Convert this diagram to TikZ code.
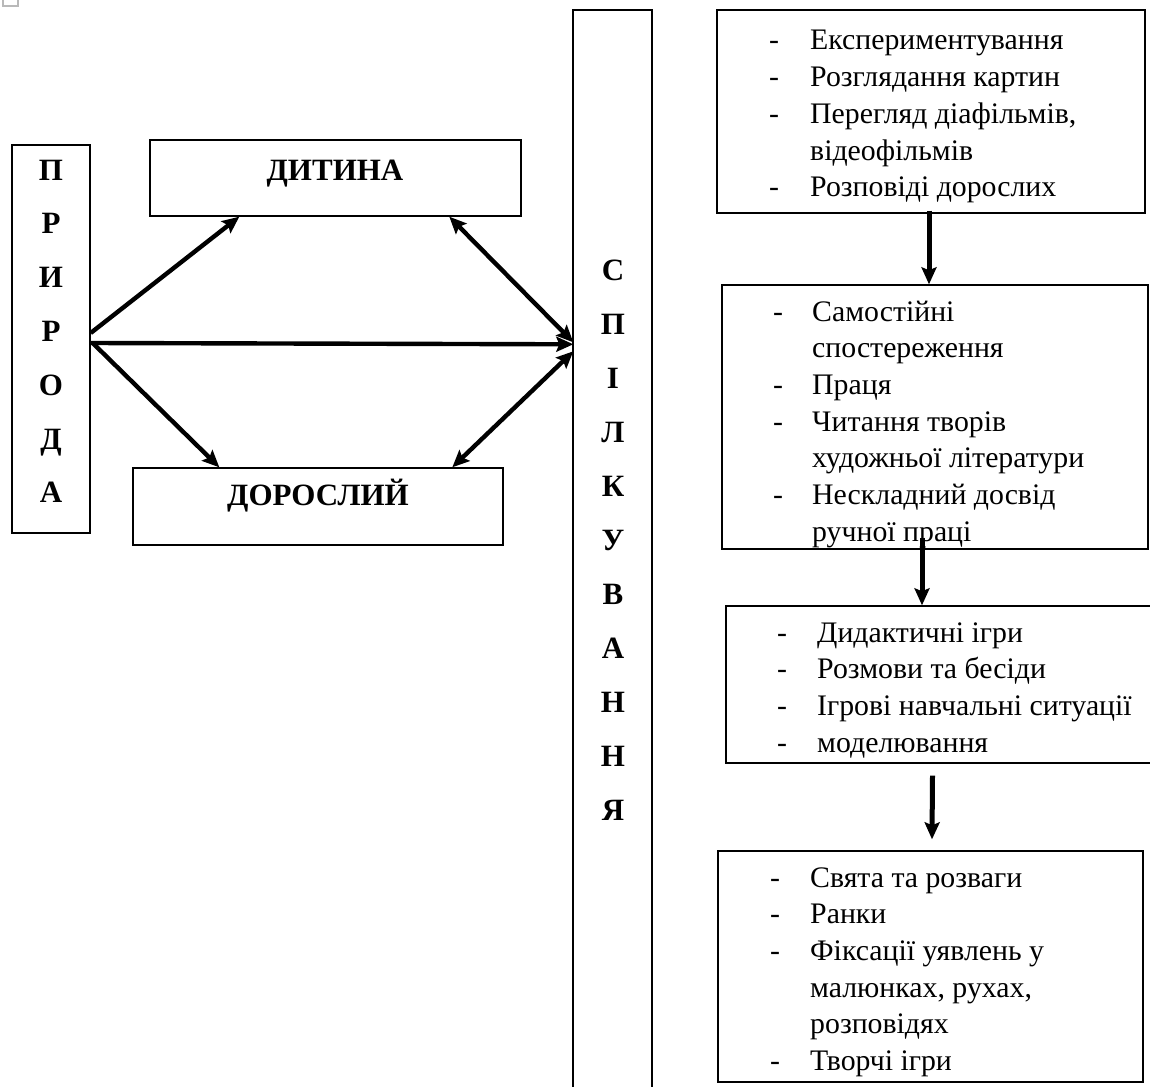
\documentclass[tikz,border=0pt]{standalone}
\usepackage{fontspec}
\setmainfont{Liberation Serif}
\usetikzlibrary{arrows.meta,calc}
\begin{document}
\begin{tikzpicture}[x=1pt,y=-1pt,
  box/.style={draw, line width=1.4pt, inner sep=0pt},
  tip/.tip={Stealth[length=17pt,width=15pt,inset=3pt]},
  arr/.style={line width=4.4pt, -tip},
  varr/.style={line width=5pt, -tip},
  darr/.style={line width=4.4pt, tip-tip},
  bigl/.style={font=\fontsize{31}{36.7}\selectfont\bfseries, inner sep=0pt, anchor=base},
  lst/.style={font=\fontsize{29.8}{36.7}\selectfont, inner sep=0pt, anchor=base west},
  every node/.style={text=black}]
\clip (0,0) rectangle (1150,1086);
\fill[white] (0,0) rectangle (1150,1086);
% broken image icon
\node[draw=gray!55, line width=1.2pt, inner sep=0pt, minimum width=15pt, minimum height=8pt] (icon) at (10.5,2) {};
% left part
\node[box, minimum width=78pt, minimum height=388pt] (pr) at (51,339) {};
\foreach \l [count=\i] in {П,Р,И,Р,О,Д,А}
  \node[bigl] (prl\i) at (51,{180+53.8*(\i-1)}) {\l};
\node[box, minimum width=371pt, minimum height=76pt] (dyt) at (335.5,178) {};
\node[bigl] (dytt) at (335,181) {ДИТИНА};
\node[box, minimum width=370pt, minimum height=77pt] (dor) at (318,506.5) {};
\node[bigl] (dort) at (318,505) {ДОРОСЛИЙ};
% communication column
\node[box, minimum width=79pt, minimum height=1100pt] (sp) at (612.5,560) {};
\foreach \l [count=\i] in {С,П,І,Л,К,У,В,А,Н,Н,Я}
  \node[bigl] (spl\i) at (613,{280+54*(\i-1)}) {\l};
% arrows
\draw[arr] ($(pr.east)+(0,-6)$) -- ($(dyt.south west)+(90,0)$);
\draw[arr] ($(pr.east)+(0,4)$) -- ($(sp.north west)+(1,335)$);
\draw[arr] ($(pr.east)+(2,4)$) -- ($(dor.north west)+(87,0)$);
\draw[darr] ($(dyt.south west)+(300,0)$) -- ($(sp.north west)+(1,333)$);
\draw[darr] ($(sp.north west)+(1,342)$) -- ($(dor.north west)+(320,0)$);
% right boxes
\node[box, minimum width=428pt, minimum height=203pt] (b1) at (931,111.5) {};
\node[lst] (t1) at (769,50) {\begin{tabular}[t]{@{}p{41pt}@{}l@{}}
-&Експериментування\\
-&Розглядання картин\\
-&Перегляд діафільмів,\\
&відеофільмів\\
-&Розповіді дорослих
\end{tabular}};
\node[box, minimum width=426pt, minimum height=264pt] (b2) at (935,417) {};
\node[lst] (t2) at (773,321) {\begin{tabular}[t]{@{}p{39pt}@{}l@{}}
-&Самостійні\\
&спостереження\\
-&Праця\\
-&Читання творів\\
&художньої літератури\\
-&Нескладний досвід\\
&ручної праці
\end{tabular}};
\node[box, minimum width=429pt, minimum height=157pt] (b3) at (940.5,684.5) {};
\node[lst] (t3) at (777,642) {\begin{tabular}[t]{@{}p{40pt}@{}l@{}}
-&Дидактичні ігри\\
-&Розмови та бесіди\\
-&Ігрові навчальні ситуації\\
-&моделювання
\end{tabular}};
\node[box, minimum width=425pt, minimum height=231pt] (b4) at (930.5,966.5) {};
\node[lst] (t4) at (770,887) {\begin{tabular}[t]{@{}p{40pt}@{}l@{}}
-&Свята та розваги\\
-&Ранки\\
-&Фіксації уявлень у\\
&малюнках, рухах,\\
&розповідях\\
-&Творчі ігри
\end{tabular}};
% vertical arrows
\draw[varr] ($(b1.south)+(-2,-3)$) -- ($(b2.north)+(-6,0)$);
\draw[varr] ($(b2.south)+(-13,-12)$) -- ($(b3.north)+(-18.5,0)$);
\draw[varr] ($(b3.south)+(-8,12)$) -- ($(b4.north)+(1.5,-11)$);
\end{tikzpicture}
\end{document}
